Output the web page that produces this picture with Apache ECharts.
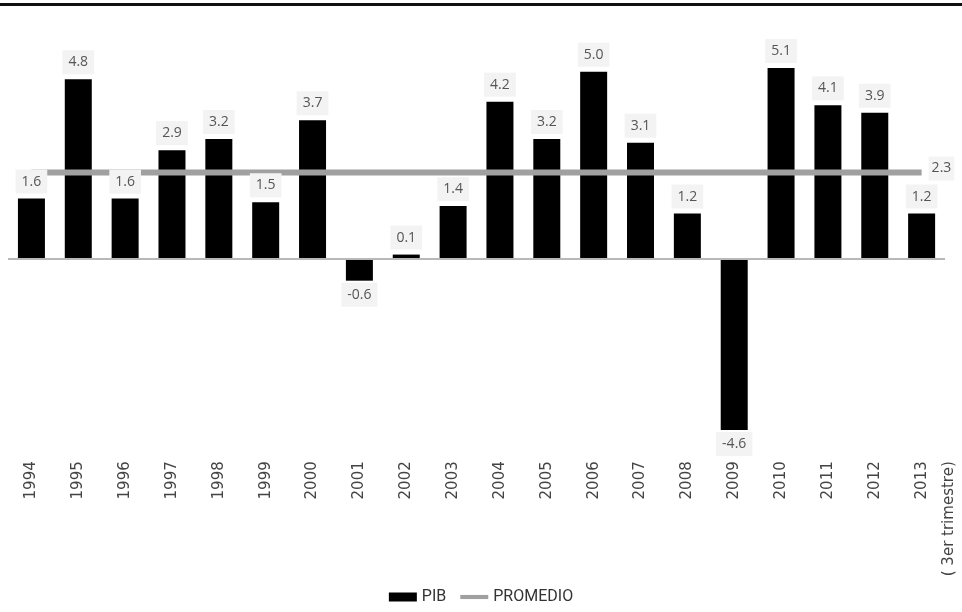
<!DOCTYPE html>
<html>
<head>
<meta charset="utf-8">
<script src="https://cdn.jsdelivr.net/npm/echarts@6/dist/echarts.min.js"></script>
<style>html,body{margin:0;padding:0;background:#fff}#c{width:962px;height:612px}</style>
</head>
<body>
<div id="c"></div>
<script>
const years = ['1994','1995','1996','1997','1998','1999','2000','2001','2002','2003','2004','2005','2006','2007','2008','2009','2010','2011','2012','2013\n( 3er trimestre)'];
const pib = [1.6, 4.8, 1.6, 2.9, 3.2, 1.5, 3.7, -0.6, 0.1, 1.4, 4.2, 3.2, 5.0, 3.1, 1.2, -4.6, 5.1, 4.1, 3.9, 1.2];
const promedioValue = 2.3;
const promedio = years.map(() => promedioValue);

const chart = echarts.init(document.getElementById('c'), null, {renderer: 'canvas'});
const labelFont = {fontFamily: 'Open Sans', fontSize: 14, color: '#555'};
const yMin = -5.2, yMax = 6, pxPerUnit = 37.3, zeroY = 258.3;
chart.setOption({
  animation: false,
  backgroundColor: '#fff',
  graphic: [{type: 'rect', left: 0, top: 3, shape: {width: 962, height: 3}, style: {fill: '#111'}}],
  grid: {left: 8, right: 12, top: zeroY - yMax * pxPerUnit, height: (yMax - yMin) * pxPerUnit, containLabel: false},
  legend: {
    bottom: 2, left: 'center', itemGap: 14,
    itemWidth: 28, itemHeight: 9,
    data: [
      {name: 'PIB', icon: 'rect', itemStyle: {color: '#000'}},
      {name: 'PROMEDIO', icon: 'path://M0,0H34V5H0Z', itemStyle: {color: '#a0a0a0'}}
    ],
    textStyle: {fontFamily: 'Roboto', fontSize: 16, color: '#333'}
  },
  xAxis: {
    type: 'category',
    data: years,
    axisLine: {show: false, onZero: false}, axisTick: {show: false},
    axisLabel: {
      rotate: 90, margin: 9, interval: 0,
      fontFamily: 'DejaVu Sans', fontSize: 15, color: '#444', lineHeight: 27,
      formatter: v => v.indexOf('\n') >= 0 ? ' \n' + v : v
    }
  },
  yAxis: {type: 'value', min: yMin, max: yMax, show: false, splitLine: {show: false}},
  series: [
    {
      name: 'PIB', type: 'bar', data: pib, barWidth: 27, z: 2,
      itemStyle: {color: '#000'},
      markLine: {silent: true, symbol: 'none', label: {show: false},
        lineStyle: {color: '#b8b8b8', width: 2, type: 'solid'}, data: [{yAxis: 0}]}
    },
    {
      name: 'PROMEDIO', type: 'line', data: promedio, symbol: 'none', z: 3,
      lineStyle: {color: '#a0a0a0', width: 6}, itemStyle: {color: '#a0a0a0'},
      endLabel: {show: true, formatter: p => p.value.toFixed(1), distance: 7, offset: [0, -4],
        ...labelFont, backgroundColor: '#f4f4f4', padding: [5, 3]}
    },
    {
      name: 'labels', type: 'bar', barWidth: 27, barGap: '-100%', z: 4,
      itemStyle: {color: 'rgba(0,0,0,0)'},
      data: pib.map(v => ({value: v, label: {position: v < 0 ? 'bottom' : 'top', distance: v < 0 ? 2 : 5}})),
      label: {show: true, formatter: p => p.value.toFixed(1),
        ...labelFont, backgroundColor: '#f3f3f3', padding: [5, 6]}
    }
  ]
});
</script>
</body>
</html>
